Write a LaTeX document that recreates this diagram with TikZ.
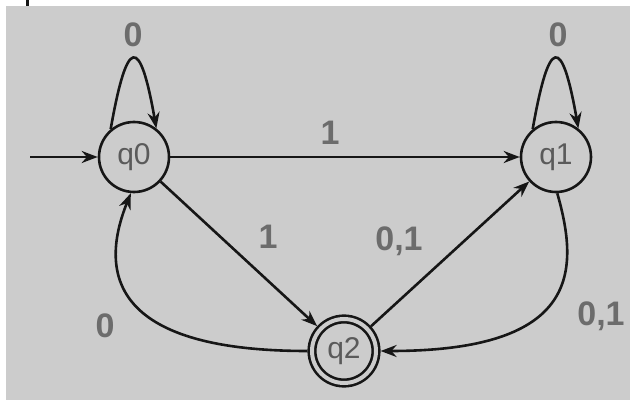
\documentclass[tikz,border=0pt]{standalone}
\usepackage{fontspec}
\setmainfont{Liberation Sans}
\usetikzlibrary{arrows.meta}
\definecolor{paper}{RGB}{204,204,204}
\definecolor{ink}{RGB}{22,22,22}
\definecolor{nodegray}{RGB}{90,90,90}
\definecolor{labelgray}{RGB}{108,108,108}
\begin{document}
\begin{tikzpicture}[x=1pt, y=1pt, >={Stealth[length=16pt, width=12pt]},
    stnode/.style={circle, draw=ink, line width=2.6pt, minimum size=70pt, inner sep=0pt,
      outer sep=1.3pt, text=nodegray, font=\fontsize{30}{36}\selectfont},
    accnode/.style={stnode, minimum size=64pt, double=paper, double distance=4pt, outer sep=4.6pt},
    trans/.style={->, line width=2.6pt, draw=ink},
    lbl/.style={anchor=base, text=labelgray, font=\bfseries\fontsize{34}{40}\selectfont}]
    \useasboundingbox (0,0) rectangle (630,400);
    % Paper
    \fill[white] (0,0) rectangle (630,400);
    \fill[paper] (6,0) rectangle (630,394);
    \draw[ink, line width=2.5pt] (27.5,394) -- (27.5,400);

    % States
    \node[stnode] (q0) at (134,243) {q0};
    \node[stnode] (q1) at (556,243) {q1};
    \node[accnode] (q2) at (344,49) {q2};
    \coordinate (start) at (30,243);

    % Transitions
    \draw[trans] (start) -- (q0);
    \draw[trans] (q0.130) .. controls +(80:95) and +(100:95) .. (q0.52);
    \draw[trans] (q1.130) .. controls +(80:95) and +(100:95) .. (q1.52);
    \draw[trans] (q0) -- (q1);
    \draw[trans] (q0) -- (q2);
    \draw[trans] (q2) -- (q1);
    \draw[trans] (q2.west) .. controls +(-200,0) and +(-31,-77) .. (q0.265);
    \draw[trans] (q1.272) .. controls +(22,-77) and +(200,0) .. (q2.east);

    % Labels
    \node[lbl] (l00) at (133,353) {0};
    \node[lbl] (l11) at (558,353) {0};
    \node[lbl] (l01) at (330,256) {1};
    \node[lbl] (l02) at (268,152) {1};
    \node[lbl] (l21) at (399,150) {0,1};
    \node[lbl] (l20) at (105,63) {0};
    \node[lbl] (l12) at (601,75) {0,1};
\end{tikzpicture}
\end{document}
